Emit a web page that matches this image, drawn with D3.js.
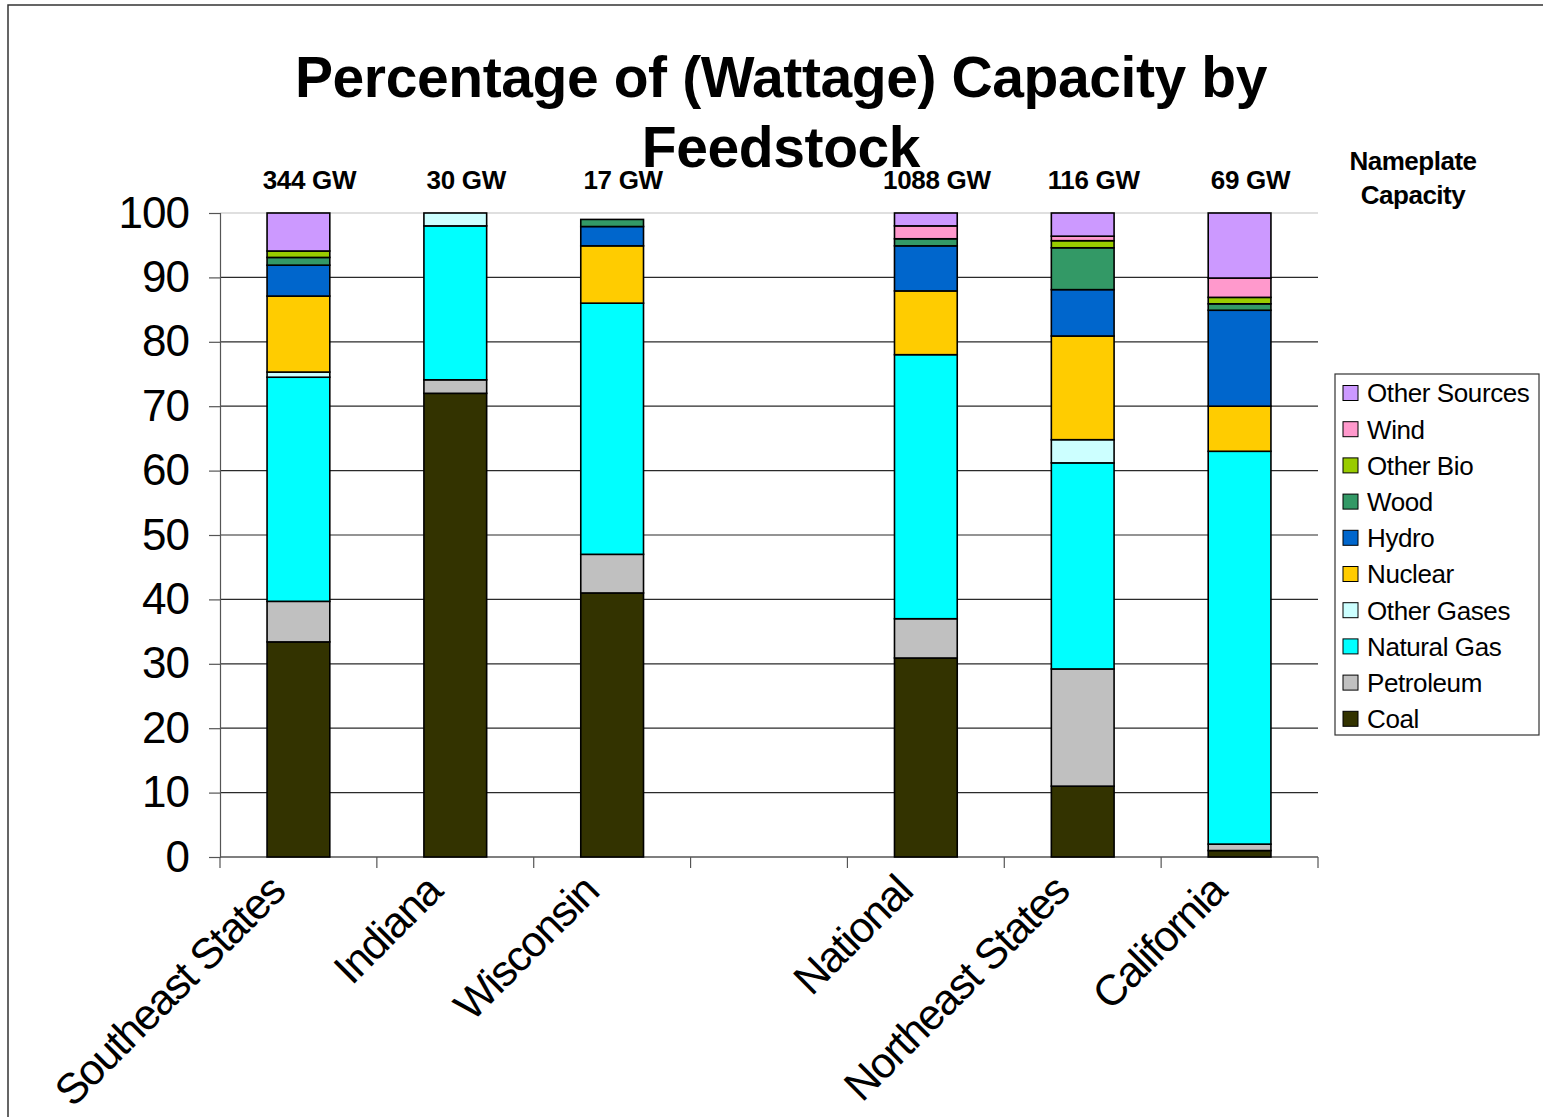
<!DOCTYPE html>
<html>
<head>
<meta charset="utf-8">
<script src="https://cdn.jsdelivr.net/npm/d3@7"></script>
<style>
  html, body { margin: 0; padding: 0; background: #fff; }
  svg { display: block; font-family: "Liberation Sans", Arial, sans-serif; }
</style>
</head>
<body>
<svg id="chart" width="1543" height="1117"></svg>
<script>
// Regions (an empty slot separates the state group from the national comparison)
const categories = ["Southeast States", "Indiana", "Wisconsin", "", "National", "Northeast States", "California"];
const capacities = ["344 GW", "30 GW", "17 GW", "", "1088 GW", "116 GW", "69 GW"];

// Share of nameplate capacity (%) by feedstock, one array per source, in category order
const coal        = [33.4, 72.0, 41.0, 0, 30.9, 11.0, 1.0];
const petroleum   = [6.3,  2.1,  6.0,  0, 6.1,  18.2, 1.0];
const naturalGas  = [34.8, 23.9, 39.0, 0, 41.0, 32.0, 61.0];
const otherGases  = [0.8,  2.0,  0,    0, 0,    3.6,  0];
const nuclear     = [11.8, 0,    8.9,  0, 9.9,  16.1, 7.0];
const hydro       = [4.8,  0,    3.0,  0, 7.0,  7.2,  14.9];
const wood        = [1.2,  0,    1.1,  0, 1.1,  6.5,  1.0];
const otherBio    = [1.0,  0,    0,    0, 0,    1.1,  1.0];
const wind        = [0,    0,    0,    0, 2.0,  0.7,  3.0];
const otherSrc    = [5.9,  0,    0,    0, 2.0,  3.6,  10.1];

const sources = ["Coal", "Petroleum", "Natural Gas", "Other Gases", "Nuclear", "Hydro", "Wood", "Other Bio", "Wind", "Other Sources"];
const seriesValues = [coal, petroleum, naturalGas, otherGases, nuclear, hydro, wood, otherBio, wind, otherSrc];
const colors = ["#333300", "#c0c0c0", "#00ffff", "#ccffff", "#ffcc00", "#0066cc", "#339966", "#99cc00", "#ff99cc", "#cc99ff"];
const yTicks = [0, 10, 20, 30, 40, 50, 60, 70, 80, 90, 100];

const svg = d3.select("#chart");

// Chart frame
svg.append("rect").attr("x", 8).attr("y", 5).attr("width", 1560).attr("height", 1140)
  .attr("fill", "none").attr("stroke", "#333").attr("stroke-width", 1.5);

const plotLeft = 220, plotRight = 1318, plotBottom = 857, plotTop = 213;

const x = d3.scaleBand().domain(d3.range(categories.length)).range([plotLeft, plotRight])
  .paddingInner(0.6).paddingOuter(0.3);
const y = d3.scaleLinear().domain([0, 100]).range([plotBottom, plotTop]);

// Gridlines
svg.append("g").selectAll("line").data(yTicks.filter(t => t > 0)).join("line")
  .attr("x1", plotLeft).attr("x2", plotRight)
  .attr("y1", d => y(d)).attr("y2", d => y(d))
  .attr("stroke", d => d === 100 ? "#c0c0c0" : "#2a2a2a").attr("stroke-width", 1.2);

// Y axis
const yAxis = svg.append("g").attr("transform", `translate(${plotLeft},0)`)
  .call(d3.axisLeft(y).tickValues(yTicks).tickSize(11).tickPadding(20));
yAxis.select(".domain").attr("stroke", "#555").attr("stroke-width", 1.2);
yAxis.selectAll(".tick line").attr("stroke", "#555").attr("stroke-width", 1.2);
yAxis.selectAll("text").attr("font-size", 44).attr("fill", "#000")
  .attr("font-family", "Liberation Sans, Arial, sans-serif").attr("letter-spacing", -1);

// X axis baseline with ticks between categories
svg.append("line").attr("x1", plotLeft).attr("x2", plotRight).attr("y1", plotBottom).attr("y2", plotBottom)
  .attr("stroke", "#555").attr("stroke-width", 1.5);
const step = x.step();
svg.append("g").selectAll("line").data(d3.range(categories.length + 1)).join("line")
  .attr("x1", i => plotLeft + i * step).attr("x2", i => plotLeft + i * step)
  .attr("y1", plotBottom).attr("y2", plotBottom + 11)
  .attr("stroke", "#555").attr("stroke-width", 1.2);

// Stacked bars
const rows = categories.map((c, i) => {
  const r = { idx: i };
  sources.forEach((s, k) => { r[s] = seriesValues[k][i]; });
  return r;
});
const stack = d3.stack().keys(sources)(rows);

svg.append("g").selectAll("g").data(stack).join("g")
  .attr("fill", (d, k) => colors[k])
  .selectAll("rect").data(d => d.filter(p => p[1] - p[0] > 0)).join("rect")
  .attr("x", d => x(d.data.idx))
  .attr("width", x.bandwidth())
  .attr("y", d => y(d[1]))
  .attr("height", d => y(d[0]) - y(d[1]))
  .attr("stroke", "#000").attr("stroke-width", 1.6);

// Category labels, rotated
svg.append("g").selectAll("text").data(categories.map((c, i) => ({ c, i })).filter(d => d.c)).join("text")
  .attr("transform", d => `translate(${x(d.i) + x.bandwidth() / 2 - 34},${plotBottom + 14}) rotate(-45)`)
  .attr("text-anchor", "end").attr("dy", "0.75em")
  .attr("font-size", 43).attr("letter-spacing", -1.5).attr("fill", "#000")
  .text(d => d.c);

// Nameplate capacity above each bar
svg.append("g").selectAll("text").data(capacities.map((c, i) => ({ c, i })).filter(d => d.c)).join("text")
  .attr("x", d => x(d.i) + x.bandwidth() / 2 + 11)
  .attr("y", 189)
  .attr("text-anchor", "middle")
  .attr("font-size", 26).attr("font-weight", "bold").attr("letter-spacing", -0.3)
  .text(d => d.c);

svg.append("text").attr("x", 1413).attr("y", 170).attr("text-anchor", "middle")
  .attr("font-size", 26).attr("font-weight", "bold").attr("letter-spacing", -0.5)
  .text("Nameplate");
svg.append("text").attr("x", 1413).attr("y", 204).attr("text-anchor", "middle")
  .attr("font-size", 26).attr("font-weight", "bold").attr("letter-spacing", -0.5)
  .text("Capacity");

// Title
svg.append("text").attr("x", 781).attr("y", 97).attr("text-anchor", "middle")
  .attr("font-size", 57).attr("font-weight", "bold").attr("letter-spacing", -0.4)
  .text("Percentage of (Wattage) Capacity by");
svg.append("text").attr("x", 781).attr("y", 167).attr("text-anchor", "middle")
  .attr("font-size", 57).attr("font-weight", "bold").attr("letter-spacing", -0.4)
  .text("Feedstock");

// Legend (top entry is the top of the stack)
const legend = svg.append("g");
legend.append("rect").attr("x", 1335).attr("y", 374).attr("width", 204).attr("height", 361)
  .attr("fill", "#fff").attr("stroke", "#333").attr("stroke-width", 1.2);
const legendItems = sources.map((s, k) => ({ s, k })).reverse();
const li = legend.selectAll("g.item").data(legendItems).join("g").attr("class", "item")
  .attr("transform", (d, j) => `translate(1343,${393 + j * 36.2})`);
li.append("rect").attr("x", 0).attr("y", -7.5).attr("width", 15).attr("height", 15)
  .attr("fill", d => colors[d.k]).attr("stroke", "#000").attr("stroke-width", 1);
li.append("text").attr("x", 24).attr("y", 0).attr("dy", "0.36em")
  .attr("font-size", 26).attr("letter-spacing", -0.4)
  .text(d => d.s);
</script>
</body>
</html>
